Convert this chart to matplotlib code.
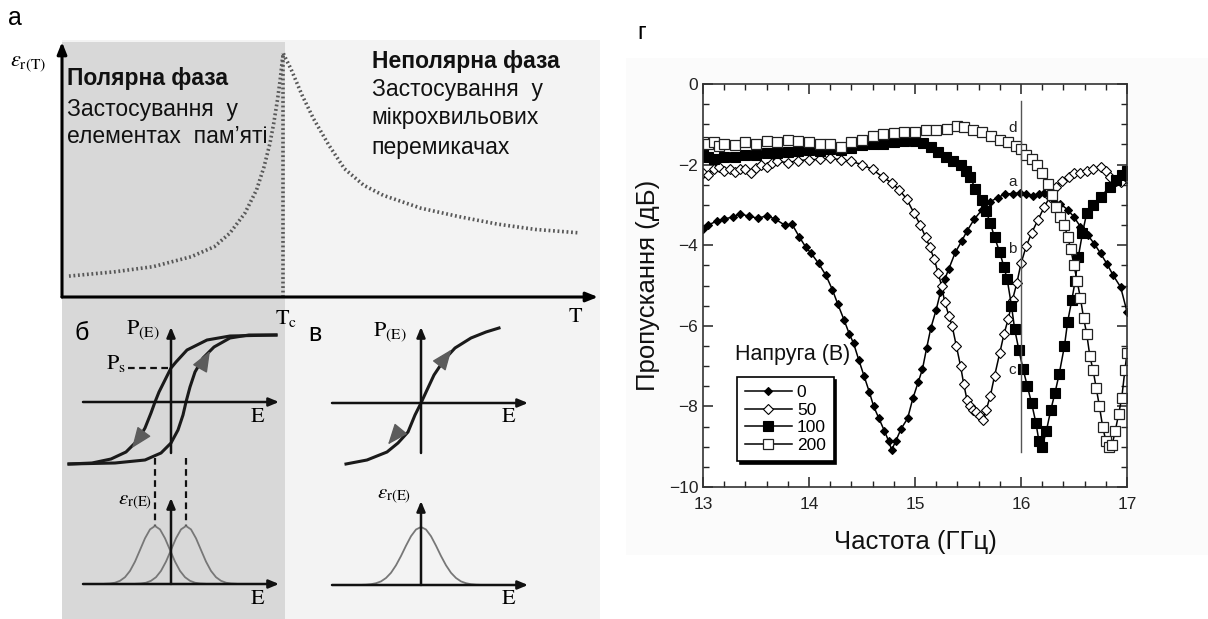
import numpy as np
import matplotlib
matplotlib.use("Agg")
import matplotlib.pyplot as plt
from matplotlib.patches import Rectangle

plt.rcParams['font.family'] = ['Liberation Sans', 'DejaVu Sans']
plt.rcParams['mathtext.fontset'] = 'stix'

# ---------------- data: panel г (transmission spectra) ----------------
f0 = [13.0, 13.05, 13.13, 13.2, 13.28, 13.35, 13.43, 13.52, 13.6, 13.68, 13.77, 13.84, 13.91, 13.97,
      14.02, 14.09, 14.16, 14.22, 14.27, 14.33, 14.38, 14.42, 14.47, 14.52, 14.57, 14.61, 14.66, 14.71,
      14.75, 14.78, 14.82, 14.87, 14.93, 14.98, 15.03, 15.07, 15.11, 15.15, 15.2, 15.24, 15.28, 15.32,
      15.38, 15.44, 15.49, 15.56, 15.63, 15.71, 15.78, 15.85, 15.92, 15.99, 16.05, 16.11, 16.17, 16.22,
      16.3, 16.37, 16.44, 16.5, 16.56, 16.63, 16.69, 16.75, 16.81, 16.87, 16.94, 17.0]
s0 = [-3.6, -3.5, -3.4, -3.35, -3.3, -3.22, -3.28, -3.33, -3.27, -3.35, -3.5, -3.48, -3.8, -4.05,
      -4.2, -4.45, -4.75, -5.1, -5.45, -5.85, -6.2, -6.43, -6.85, -7.25, -7.65, -8.0, -8.3, -8.6,
      -8.85, -9.08, -8.85, -8.55, -8.3, -7.8, -7.4, -7.08, -6.55, -6.05, -5.6, -5.17, -4.85, -4.58,
      -4.18, -3.9, -3.65, -3.35, -3.13, -2.92, -2.82, -2.73, -2.72, -2.7, -2.72, -2.77, -2.72, -2.7,
      -2.85, -2.97, -3.12, -3.3, -3.54, -3.75, -3.96, -4.2, -4.46, -4.75, -5.04, -5.65]

f50 = [13.0, 13.05, 13.1, 13.15, 13.2, 13.25, 13.3, 13.35, 13.4, 13.45, 13.5, 13.55, 13.6, 13.65,
       13.7, 13.8, 13.9, 14.0, 14.1, 14.2, 14.3, 14.4, 14.5, 14.6, 14.7, 14.78, 14.85, 14.92, 14.99,
       15.05, 15.1, 15.14, 15.18, 15.22, 15.25, 15.28, 15.32, 15.35, 15.39, 15.43, 15.46, 15.49, 15.52,
       15.55, 15.58, 15.61, 15.64, 15.67, 15.71, 15.75, 15.8, 15.84, 15.88, 15.92, 15.96, 16.0, 16.05,
       16.1, 16.16, 16.22, 16.27, 16.33, 16.39, 16.45, 16.5, 16.56, 16.62, 16.68, 16.75, 16.8, 16.84,
       16.9, 16.94, 17.0]
s50 = [-2.2, -2.25, -2.1, -2.05, -2.15, -2.1, -2.18, -2.12, -2.1, -2.2, -2.08, -2.0, -2.05, -1.95,
       -1.92, -1.95, -1.9, -1.88, -1.87, -1.84, -1.88, -1.92, -2.0, -2.12, -2.32, -2.45, -2.62, -2.85, -3.2,
       -3.5, -3.8, -4.05, -4.34, -4.7, -5.0, -5.4, -5.75, -6.0, -6.5, -7.0, -7.45, -7.83, -8.0,
       -8.1, -8.15, -8.25, -8.33, -8.1, -7.75, -7.25, -6.67, -6.2, -5.83, -5.35, -4.95, -4.45, -4.02,
       -3.7, -3.37, -3.05, -2.81, -2.55, -2.4, -2.3, -2.2, -2.2, -2.15, -2.1, -2.05, -2.15, -2.3,
       -2.4, -2.42, -2.33]

f100 = [13.0, 13.05, 13.1, 13.2, 13.3, 13.4, 13.5, 13.6, 13.7, 13.8, 13.9, 14.0, 14.1, 14.2, 14.3,
        14.4, 14.5, 14.6, 14.7, 14.8, 14.9, 15.0, 15.08, 15.15, 15.22, 15.29, 15.36, 15.43, 15.48,
        15.52, 15.57, 15.63, 15.67, 15.71, 15.75, 15.8, 15.84, 15.87, 15.91, 15.94, 15.98, 16.02,
        16.06, 16.1, 16.14, 16.17, 16.2, 16.24, 16.28, 16.32, 16.36, 16.41, 16.44, 16.48, 16.51,
        16.54, 16.58, 16.62, 16.68, 16.75, 16.84, 16.9, 16.95, 17.0]
s100 = [-1.72, -1.8, -1.85, -1.8, -1.82, -1.75, -1.77, -1.72, -1.7, -1.68, -1.66, -1.64, -1.66, -1.62,
        -1.64, -1.58, -1.52, -1.5, -1.48, -1.44, -1.41, -1.42, -1.47, -1.56, -1.68, -1.8, -1.9, -2.0,
        -2.15, -2.32, -2.6, -2.89, -3.15, -3.45, -3.8, -4.18, -4.55, -4.85, -5.5, -6.08, -6.6, -7.08,
        -7.5, -7.92, -8.4, -8.87, -9.0, -8.6, -8.1, -7.67, -7.2, -6.5, -5.9, -5.35, -4.9,
        -4.3, -3.7, -3.2, -3.0, -2.8, -2.55, -2.38, -2.25, -2.17]

f200 = [13.0, 13.05, 13.1, 13.15, 13.2, 13.3, 13.4, 13.5, 13.6, 13.7, 13.8, 13.9, 14.0, 14.1, 14.2,
        14.3, 14.4, 14.5, 14.6, 14.7, 14.8, 14.9, 15.0, 15.1, 15.2, 15.3, 15.4, 15.46, 15.55, 15.63,
        15.72, 15.8, 15.88, 15.95, 16.0, 16.05, 16.1, 16.15, 16.2, 16.25, 16.29, 16.33, 16.37, 16.41,
        16.44, 16.47, 16.5, 16.53, 16.56, 16.59, 16.62, 16.65, 16.68, 16.71, 16.74, 16.77, 16.8,
        16.83, 16.86, 16.89, 16.92, 16.95, 16.98, 17.0]
s200 = [-1.43, -1.5, -1.45, -1.55, -1.5, -1.52, -1.45, -1.48, -1.42, -1.45, -1.4, -1.42, -1.45, -1.48,
        -1.5, -1.56, -1.45, -1.4, -1.3, -1.25, -1.22, -1.19, -1.18, -1.15, -1.15, -1.12, -1.05, -1.07,
        -1.15, -1.2, -1.28, -1.38, -1.45, -1.55, -1.62, -1.75, -1.85, -2.0, -2.2, -2.48, -2.75, -3.05,
        -3.3, -3.5, -3.8, -4.1, -4.5, -4.9, -5.3, -5.8, -6.2, -6.76, -7.1, -7.55, -8.0, -8.5, -8.85,
        -9.0, -8.95, -8.6, -8.2, -7.8, -7.1, -6.68]

voltage_labels = ['0', '50', '100', '200']
curve_letters = ['d', 'a', 'b', 'c']
letter_y = [-1.08, -2.42, -4.1, -7.1]
letter_x = 15.92
marker_freq = 16.0
marker_line = [-0.42, -9.12]

# ---------------- data: panel а (permittivity vs temperature, schematic) ----------------
T_left = [1.3, 9.9, 17.0, 24.1, 28.4, 31.3, 34.1, 36.3, 37.7, 38.8, 39.5, 40.2, 40.7, 41.1, 41.3]
e_left = [8.2, 9.9, 11.9, 15.8, 19.7, 25.0, 32.8, 42.0, 51.1, 60.3, 68.1, 77.3, 85.1, 92.9, 95.5]
T_right = [41.3, 41.6, 42.7, 44.8, 46.9, 49.8, 52.7, 56.3, 59.9, 67.0, 74.1, 81.2, 88.3, 96.2]
e_right = [95.5, 94.1, 89.5, 79.1, 70.0, 59.5, 50.3, 43.8, 39.9, 34.8, 31.5, 28.6, 26.5, 25.2]
T_curie = 41.3

# ---------------- data: panel б (hysteresis, schematic) ----------------
Eb_down = [10.5, 5.9, 3.6, 1.6, 0.5, 0.0, -0.6, -1.2, -1.6, -2.0, -2.6, -3.3, -4.5, -6.0, -7.9, -10.2]
Pb_down = [6.7, 6.6, 6.2, 5.2, 4.0, 3.4, 2.2, 1.0, 0.0, -1.1, -2.6, -3.8, -5.0, -5.7, -6.1, -6.2]
Eb_up = [-10.2, -5.6, -2.6, -1.0, 0.0, 0.7, 1.2, 1.5, 1.9, 2.4, 3.2, 4.3, 5.9, 7.8, 10.5]
Pb_up = [-6.2, -6.1, -5.8, -5.1, -4.1, -2.8, -1.3, 0.0, 1.5, 3.0, 4.4, 5.5, 6.4, 6.7, 6.7]
P_s = 3.4
E_coercive = [-1.6, 1.5]
bump_dx_b = [-5, -4.5, -4, -3.5, -3, -2.5, -2, -1.5, -1, -0.5, 0, 0.5, 1, 1.5, 2, 2.5, 3, 3.5, 4, 4.5, 5]
bump_h_b = [0.02, 0.05, 0.13, 0.32, 0.68, 1.31, 2.24, 3.40, 4.57, 5.46, 5.8,
            5.46, 4.57, 3.40, 2.24, 1.31, 0.68, 0.32, 0.13, 0.05, 0.02]

# ---------------- data: panel в (paraelectric, schematic) ----------------
Ev = [-7.5, -5.4, -3.4, -2.3, -1.3, -0.6, 0.0, 0.6, 1.3, 2.3, 3.4, 5.0, 6.5, 7.8]
Pv = [-6.1, -5.7, -4.9, -4.0, -2.9, -1.2, 0.0, 1.3, 2.8, 4.3, 5.5, 6.5, 7.1, 7.5]
bump_dx_v = [-6, -5.5, -5, -4.5, -4, -3.5, -3, -2.5, -2, -1.5, -1, -0.5, 0,
             0.5, 1, 1.5, 2, 2.5, 3, 3.5, 4, 4.5, 5, 5.5, 6]
bump_h_v = [0.01, 0.03, 0.08, 0.18, 0.36, 0.70, 1.22, 1.97, 2.90, 3.93, 4.88, 5.55, 5.8,
            5.55, 4.88, 3.93, 2.90, 1.97, 1.22, 0.70, 0.36, 0.18, 0.08, 0.03, 0.01]

# ---------------- figure ----------------
W, H = 1208, 619
fig = plt.figure(figsize=(W / 100, H / 100), dpi=100)
fig.patch.set_facecolor('white')


def box(x0, y0, x1, y1):
    return [x0 / W, 1 - y1 / H, (x1 - x0) / W, (y1 - y0) / H]


def rect(x0, y0, x1, y1, color):
    fig.add_artist(Rectangle((x0 / W, 1 - y1 / H), (x1 - x0) / W, (y1 - y0) / H,
                             transform=fig.transFigure, facecolor=color, edgecolor='none', zorder=0))


rect(62, 40, 600, 619, '#f3f3f3')
rect(62, 42, 285, 619, '#d8d8d8')
rect(626, 58, 1208, 555, '#fbfbfb')

AX = dict(arrowstyle='-|>,head_length=0.7,head_width=0.28', lw=2.2, color='k', shrinkA=0, shrinkB=0)
AXS = dict(arrowstyle='-|>,head_length=0.6,head_width=0.25', lw=1.8, color='#111', shrinkA=0, shrinkB=0)
GRAYHEAD = dict(arrowstyle='-|>,head_length=0.65,head_width=0.26', lw=1, color='#5c5c5c',
                shrinkA=0, shrinkB=0, mutation_scale=20)

# ---- panel а ----
axA = fig.add_axes(box(62, 42, 598, 297))
axA.set_xlim(0, 100)
axA.set_ylim(0, 100)
axA.axis('off')
axA.patch.set_alpha(0)
dot = dict(color='#585858', lw=2.6, linestyle=(0, (0.5, 0.75)), dash_capstyle='butt')
axA.plot(T_left, e_left, **dot)
axA.plot(T_right, e_right, **dot)
axA.plot([T_curie, T_curie], [0, e_left[-1]], **dot)
axA.annotate('', xy=(100, 0), xytext=(0, 0), arrowprops=AX, annotation_clip=False)
axA.annotate('', xy=(0, 100), xytext=(0, 0), arrowprops=AX, annotation_clip=False)
axA.text(-6.3, 91.5, r'$\varepsilon_{\mathrm{r(T)}}$', fontsize=16, ha='center', va='center')
axA.text(T_curie + 0.5, -8.5, r'$\mathrm{T_c}$', fontsize=16, ha='center', va='center')
axA.text(95.8, -7.5, r'$\mathrm{T}$', fontsize=16, ha='center', va='center')
fs = 16.5
axA.text(0.9, 85.8, 'Полярна фаза', fontsize=fs, fontweight='bold', va='center', color='#111')
axA.text(0.9, 73.6, 'Застосування  у', fontsize=fs, va='center', color='#111')
axA.text(0.9, 62.8, 'елементах  пам’яті', fontsize=fs, va='center', color='#111')
axA.text(57.8, 92.2, 'Неполярна фаза', fontsize=fs, fontweight='bold', va='center', color='#111')
axA.text(57.8, 81.2, 'Застосування  у', fontsize=fs, va='center', color='#111')
axA.text(57.8, 70.2, 'мікрохвильових', fontsize=fs, va='center', color='#111')
axA.text(57.8, 58.8, 'перемикачах', fontsize=fs, va='center', color='#111')

fig.text(8 / W, 1 - 18 / H, 'а', fontsize=18, va='center')

# ---- panel б ----
axB = fig.add_axes(box(60, 315, 290, 610))
axB.set_xlim(-11.1, 11.9)
axB.set_ylim(-20.8, 8.7)
axB.axis('off')
axB.patch.set_alpha(0)
base_b = -18.2
axB.annotate('', xy=(10.8, 0), xytext=(-8.8, 0), arrowprops=AXS)
axB.annotate('', xy=(0, 7.5), xytext=(0, -5.1), arrowprops=AXS)
axB.plot(Eb_down, Pb_down, color='#1a1a1a', lw=2.2)
axB.plot(Eb_up, Pb_up, color='#1a1a1a', lw=2.2)
axB.plot([-4.3, 0], [P_s, P_s], color='#111', lw=1.6, linestyle=(0, (3, 2)))
for ec in E_coercive:
    axB.plot([ec, ec], [-5.6, base_b + 5.7], color='#111', lw=1.6, linestyle=(0, (3, 2)))
axB.annotate('', xy=(3.9, 5.1), xytext=(3.3, 4.05), arrowprops=GRAYHEAD)
axB.annotate('', xy=(-3.9, -4.6), xytext=(-3.2, -3.65), arrowprops=GRAYHEAD)
axB.text(-2.8, 7.2, r'$\mathrm{P_{(E)}}$', fontsize=16, ha='center', va='center')
axB.text(-5.5, P_s + 0.4, r'$\mathrm{P_{s}}$', fontsize=16, ha='center', va='center')
axB.text(8.7, -1.4, r'$\mathrm{E}$', fontsize=16, ha='center', va='center')
# lower
axB.annotate('', xy=(10.8, base_b), xytext=(-8.8, base_b), arrowprops=AXS)
axB.annotate('', xy=(0, base_b + 8.6), xytext=(0, base_b), arrowprops=AXS)
for ec in E_coercive:
    axB.plot(np.add(bump_dx_b, ec), np.add(bump_h_b, base_b), color='#777', lw=1.3)
axB.text(-3.6, base_b + 8.2, r'$\varepsilon_{\mathrm{r(E)}}$', fontsize=15, ha='center', va='center')
axB.text(8.7, base_b - 1.4, r'$\mathrm{E}$', fontsize=16, ha='center', va='center')
fig.text(82 / W, 1 - 333 / H, 'б', fontsize=18, ha='center', va='center')

# ---- panel в ----
axV = fig.add_axes(box(310, 315, 540, 610))
axV.set_xlim(-11.1, 11.9)
axV.set_ylim(-20.7, 8.8)
axV.axis('off')
axV.patch.set_alpha(0)
base_v = -18.2
axV.annotate('', xy=(10.7, 0), xytext=(-8.9, 0), arrowprops=AXS)
axV.annotate('', xy=(0, 7.6), xytext=(0, -5.0), arrowprops=AXS)
axV.plot(Ev, Pv, color='#1a1a1a', lw=2.2)
axV.annotate('', xy=(3.05, 5.35), xytext=(2.4, 4.5), arrowprops=GRAYHEAD)
axV.annotate('', xy=(-3.3, -4.15), xytext=(-2.6, -3.3), arrowprops=GRAYHEAD)
axV.text(-3.1, 7.1, r'$\mathrm{P_{(E)}}$', fontsize=16, ha='center', va='center')
axV.text(8.8, -1.4, r'$\mathrm{E}$', fontsize=16, ha='center', va='center')
axV.annotate('', xy=(10.7, base_v), xytext=(-8.9, base_v), arrowprops=AXS)
axV.annotate('', xy=(0, base_v + 8.4), xytext=(0, base_v), arrowprops=AXS)
axV.plot(bump_dx_v, np.add(bump_h_v, base_v), color='#777', lw=1.3)
axV.text(-2.7, base_v + 8.8, r'$\varepsilon_{\mathrm{r(E)}}$', fontsize=15, ha='center', va='center')
axV.text(8.8, base_v - 1.4, r'$\mathrm{E}$', fontsize=16, ha='center', va='center')
fig.text(315 / W, 1 - 334 / H, 'в', fontsize=18, ha='center', va='center')

# ---- panel г ----
axR = fig.add_axes(box(703, 84, 1127, 487))
axR.set_xlim(13, 17)
axR.set_ylim(-10, 0)
styles = [
    dict(marker='D', ms=4.5, mfc='k', mec='k', mew=0.8),
    dict(marker='D', ms=5, mfc='white', mec='k', mew=0.8),
    dict(marker='s', ms=6.5, mfc='k', mec='k', mew=0.8),
    dict(marker='s', ms=6.5, mfc='white', mec='#222', mew=0.9),
]
series = [(f0, s0), (f50, s50), (f100, s100), (f200, s200)]
handles = []
for (fx, sy), st, lab in zip(series, styles, voltage_labels):
    h, = axR.plot(fx, sy, color='k', lw=1.1, label=lab, **st)
    handles.append(h)
axR.plot([marker_freq, marker_freq], marker_line, color='#555', lw=1.0)
for lt, ly in zip(curve_letters, letter_y):
    axR.text(letter_x, ly, lt, fontsize=11, ha='center', va='center', color='#222')

axR.set_xticks([13, 14, 15, 16, 17])
axR.set_yticks([0, -2, -4, -6, -8, -10])
axR.set_yticklabels(['0', '−2', '−4', '−6', '−8', '−10'])
axR.set_xticks(np.arange(13, 17.01, 0.2), minor=True)
axR.set_yticks(np.arange(-10, 0.01, 0.5), minor=True)
axR.tick_params(which='both', direction='in', top=True, right=True, labelsize=12.5, colors='#222')
axR.tick_params(axis='x', which='major', pad=7)
axR.tick_params(which='major', length=7, width=1.1)
axR.tick_params(which='minor', length=4, width=1.0)
for sp in axR.spines.values():
    sp.set_color('#333')
    sp.set_linewidth(1.2)
axR.set_xlabel('Частота (ГГц)', fontsize=18.5, labelpad=13, color='#111')
axR.set_ylabel('Пропускання (дБ)', fontsize=18.5, labelpad=6, color='#111')
axR.text(0.075, 0.33, 'Напруга (В)', transform=axR.transAxes, fontsize=15.5, va='center', color='#111')
leg = axR.legend(handles=handles, loc='upper left', bbox_to_anchor=(0.08, 0.273), frameon=True,
                 fancybox=False, shadow={'color': 'k', 'alpha': 1}, fontsize=12.5, handlelength=2.7,
                 handletextpad=0.3, labelspacing=0.15, borderpad=0.45, numpoints=1, borderaxespad=0)
leg.get_frame().set_edgecolor('k')
leg.get_frame().set_linewidth(1.2)
fig.text(642 / W, 1 - 33 / H, 'г', fontsize=17, ha='center', va='center')

fig.savefig('out.png', dpi=100)
